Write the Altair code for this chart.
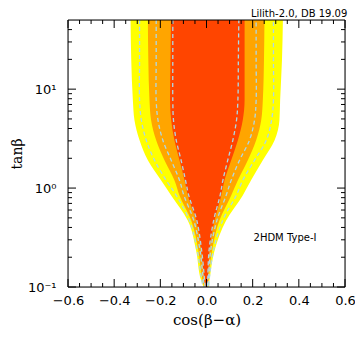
import altair as alt
import pandas as pd

# tan(beta) levels at which the contour boundaries were read
tanb = [0.1, 0.116, 0.234, 0.471, 0.843, 1.20, 1.91, 3.04, 4.85, 7.74, 19.7, 50]

# filled regions (left / right boundaries in cos(beta-alpha))
yellow_lo = [-0.013, -0.023, -0.045, -0.081, -0.153, -0.197, -0.254, -0.290, -0.312, -0.319, -0.326, -0.329]
yellow_hi = [0.009, 0.013, 0.035, 0.085, 0.157, 0.193, 0.244, 0.295, 0.316, 0.319, 0.327, 0.331]
orange_lo = [-0.010, -0.017, -0.035, -0.066, -0.117, -0.139, -0.182, -0.218, -0.240, -0.247, -0.252, -0.254]
orange_hi = [0.006, 0.009, 0.024, 0.056, 0.107, 0.136, 0.179, 0.215, 0.237, 0.244, 0.249, 0.251]
red_lo = [-0.005, -0.009, -0.023, -0.045, -0.081, -0.095, -0.117, -0.139, -0.153, -0.158, -0.156, -0.154]
red_hi = [0.004, 0.006, 0.013, 0.035, 0.064, 0.078, 0.107, 0.136, 0.157, 0.165, 0.165, 0.165]

# dashed contours
dash3_lo = [-0.012, -0.020, -0.040, -0.074, -0.131, -0.175, -0.225, -0.261, -0.282, -0.290, -0.290, -0.290]
dash3_hi = [0.008, 0.011, 0.030, 0.070, 0.129, 0.157, 0.208, 0.259, 0.282, 0.290, 0.290, 0.290]
dash2_lo = [-0.008, -0.013, -0.028, -0.055, -0.098, -0.117, -0.153, -0.189, -0.210, -0.218, -0.218, -0.218]
dash2_hi = [0.005, 0.008, 0.018, 0.045, 0.085, 0.107, 0.143, 0.186, 0.208, 0.215, 0.215, 0.215]
dash1_lo = [-0.005, -0.008, -0.021, -0.042, -0.077, -0.091, -0.110, -0.131, -0.143, -0.146, -0.146, -0.146]
dash1_hi = [0.003, 0.005, 0.011, 0.031, 0.059, 0.071, 0.092, 0.114, 0.130, 0.136, 0.138, 0.140]

x_major = [-0.6, -0.4, -0.2, 0.0, 0.2, 0.4, 0.6]
x_minor = [-0.55, -0.5, -0.45, -0.35, -0.3, -0.25, -0.15, -0.1, -0.05,
           0.05, 0.1, 0.15, 0.25, 0.3, 0.35, 0.45, 0.5, 0.55]
y_major = [0.1, 1, 10]
y_minor = [0.2, 0.3, 0.4, 0.5, 0.6, 0.7, 0.8, 0.9, 2, 3, 4, 5, 6, 7, 8, 9, 20, 30, 40]

label_text = ["2HDM Type-I"]
label_x = [0.34]
label_y = [0.316]

XDOM = [-0.6, 0.6]
YDOM = [0.1, 50]

W, H = 277, 267
MAJ, MIN = 8, 4

def band_df(lo, hi):
    return pd.DataFrame({"tanb": tanb, "lo": lo, "hi": hi})

rows = []
for name, lo, hi in [("d1", dash1_lo, dash1_hi), ("d2", dash2_lo, dash2_hi), ("d3", dash3_lo, dash3_hi)]:
    k = 0
    for t, v in zip(reversed(tanb), reversed(lo)):
        rows.append({"c": name, "o": k, "x": v, "tanb": t}); k += 1
    for t, v in zip(tanb, hi):
        rows.append({"c": name, "o": k, "x": v, "tanb": t}); k += 1
dash_df = pd.DataFrame(rows)

text_df = pd.DataFrame({"t": label_text, "x": label_x, "y": label_y})

xs = alt.Scale(domain=XDOM, nice=False, zero=False)
ys = alt.Scale(type="log", domain=YDOM, nice=False)

x_label_axis = alt.Axis(orient="bottom", values=x_major, format=".1f", ticks=False,
                        grid=False, domain=False,
                        labelFont="DejaVu Sans", labelFontSize=13, labelColor="black",
                        labelPadding=7, labelFlush=False,
                        title="cos(β−α)", titleFont="DejaVu Serif", titleFontSize=15,
                        titleFontWeight="normal", titleColor="black", titlePadding=5)
y_label_axis = alt.Axis(orient="left", values=y_major, ticks=False, grid=False, domain=False,
                        labelExpr="datum.value > 5 ? '10¹' : (datum.value > 0.5 ? '10⁰' : '10⁻¹')",
                        labelFont="DejaVu Sans", labelFontSize=13, labelColor="black",
                        labelPadding=12, labelFlush=False,
                        title="tanβ", titleFont="DejaVu Serif", titleFontSize=14,
                        titleFontWeight="normal", titleColor="black", titlePadding=3)

yellow = alt.Chart(band_df(yellow_lo, yellow_hi)).mark_area(
    color="#FFFF00", orient="horizontal", interpolate="monotone", clip=True
).encode(
    y=alt.Y("tanb:Q", scale=ys, axis=y_label_axis),
    x=alt.X("lo:Q", scale=xs, axis=x_label_axis),
    x2="hi:Q",
)
orange = alt.Chart(band_df(orange_lo, orange_hi)).mark_area(
    color="#FFA500", orient="horizontal", interpolate="monotone", clip=True
).encode(y="tanb:Q", x="lo:Q", x2="hi:Q")
red = alt.Chart(band_df(red_lo, red_hi)).mark_area(
    color="#FF4500", orient="horizontal", interpolate="monotone", clip=True
).encode(y="tanb:Q", x="lo:Q", x2="hi:Q")
dashes = alt.Chart(dash_df).mark_line(
    color="#ADD8E6", strokeWidth=1.3, strokeDash=[4, 3], interpolate="catmull-rom", clip=True
).encode(x="x:Q", y="tanb:Q", detail="c:N", order="o:Q")
txt = alt.Chart(text_df).mark_text(
    font="DejaVu Sans", fontSize=10, color="black", align="center", baseline="middle"
).encode(x="x:Q", y="y:Q", text="t:N")

xmaj_df = pd.DataFrame({"v": x_major})
xmin_df = pd.DataFrame({"v": x_minor})
ymaj_df = pd.DataFrame({"v": y_major})
ymin_df = pd.DataFrame({"v": y_minor})

def xticks(df, y0, y1):
    return alt.Chart(df).mark_rule(color="black", strokeWidth=1).encode(
        x="v:Q", y=alt.value(y0), y2=alt.value(y1))

def yticks(df, x0, x1):
    return alt.Chart(df).mark_rule(color="black", strokeWidth=1).encode(
        y="v:Q", x=alt.value(x0), x2=alt.value(x1))

ticks = [
    xticks(xmaj_df, H, H - MAJ), xticks(xmin_df, H, H - MIN),
    xticks(xmaj_df, 0, MAJ), xticks(xmin_df, 0, MIN),
    yticks(ymaj_df, 0, MAJ), yticks(ymin_df, 0, MIN),
    yticks(ymaj_df, W, W - MAJ), yticks(ymin_df, W, W - MIN),
]

frame_df = pd.DataFrame({"k": [0]})
frame = [
    alt.Chart(frame_df).mark_rule(color="black", strokeWidth=1).encode(
        x=alt.value(0), x2=alt.value(W), y=alt.value(0)),
    alt.Chart(frame_df).mark_rule(color="black", strokeWidth=1).encode(
        x=alt.value(0), x2=alt.value(W), y=alt.value(H)),
    alt.Chart(frame_df).mark_rule(color="black", strokeWidth=1).encode(
        y=alt.value(0), y2=alt.value(H), x=alt.value(0)),
    alt.Chart(frame_df).mark_rule(color="black", strokeWidth=1).encode(
        y=alt.value(0), y2=alt.value(H), x=alt.value(W)),
]

chart = alt.layer(yellow, orange, red, dashes, txt, *ticks, *frame).properties(
    width=W, height=H,
    title=alt.TitleParams("Lilith-2.0, DB 19.09", anchor="end", fontSize=10, fontWeight="normal",
                          font="DejaVu Sans", color="black", offset=1, dx=-8),
    autosize=alt.AutoSizeParams(type="none"),
    padding={"left": 60, "top": 12, "right": 10, "bottom": 45},
).configure_view(stroke=None).configure(background="white")

chart.save("out.html", embed_options={"renderer": "svg", "actions": False})
